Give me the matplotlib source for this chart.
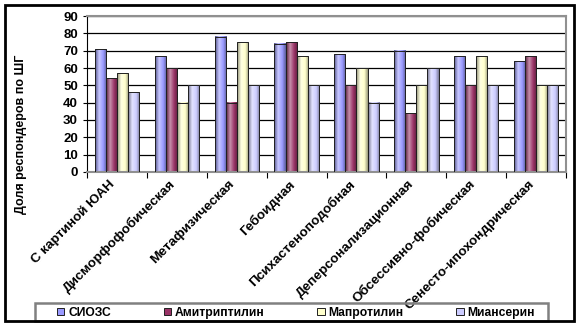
import numpy as np
import matplotlib
matplotlib.use("Agg")
import matplotlib.pyplot as plt
from matplotlib.colors import LinearSegmentedColormap, to_rgb
from matplotlib.patches import Rectangle
from matplotlib.transforms import ScaledTranslation

plt.rcParams['font.family'] = ['Liberation Sans', 'DejaVu Sans']

categories = ['С картиной ЮАН', 'Дисморфофобическая', 'Метафизическая', 'Гебоидная',
              'Психастеноподобная', 'Деперсонализационная', 'Обсессивно-фобическая',
              'Сенесто-ипохондрическая']
series_names = ['СИОЗС', 'Амитриптилин', 'Мапротилин', 'Миансерин']
siozs = [71, 67, 78, 74, 68, 70, 67, 64]
amitriptilin = [54, 60, 40, 75, 50, 34, 50, 67]
maprotilin = [57, 40, 75, 67, 60, 50, 67, 50]
mianserin = [46, 50, 50, 50, 40, 60, 50, 50]
colors = ['#9999ff', '#993366', '#ffffcc', '#ccccff']
yticks = list(range(0, 100, 10))

values = [siozs, amitriptilin, maprotilin, mianserin]


def shade(c):
    # Excel-style horizontal shading: dark edges, light stripe left of centre
    c = np.array(to_rgb(c))
    dark = c * 0.55
    light = c + (1 - c) * 0.45
    return LinearSegmentedColormap.from_list('g', [(0, dark), (0.35, light), (0.7, c), (1, c * 0.6)])


fig = plt.figure(figsize=(5.8, 3.28), dpi=100)
ax = fig.add_axes([0.150, 0.476, 0.826, 0.475])

x = np.arange(len(categories))
w = 0.185
grad = np.linspace(0, 1, 64).reshape(1, -1)
for i, (vals, col) in enumerate(zip(values, colors)):
    bars = ax.bar(x + (i - 1.5) * w, vals, w, facecolor='none', edgecolor='#202020',
                  linewidth=0.7, zorder=3)
    for b in bars:
        ax.imshow(grad, extent=[b.get_x(), b.get_x() + b.get_width(), 0, b.get_height()],
                  aspect='auto', cmap=shade(col), zorder=2.5)

ax.set_xlim(-0.5, len(categories) - 0.5)
ax.set_ylim(0, 90)
ax.set_yticks(yticks)
ax.yaxis.grid(True, color='black', linewidth=0.9, zorder=1)
ax.set_axisbelow(True)
for s in ['top', 'right', 'bottom']:
    ax.spines[s].set_color('#909090')
    ax.spines[s].set_linewidth(1.5)
ax.spines['left'].set_color('black')
ax.tick_params(axis='y', labelsize=9.5, length=3, width=0.8)
for t in ax.get_yticklabels():
    t.set_fontweight('bold')

ax.set_xticks(x)
ax.set_xticks(np.arange(len(categories) + 1) - 0.5, minor=True)
ax.tick_params(axis='x', which='major', length=0, pad=2)
ax.tick_params(axis='x', which='minor', length=4, width=0.8, color='black')
ax.set_xticklabels(categories, rotation=45, ha='right', va='top', fontsize=9.7,
                   fontweight='bold', rotation_mode='anchor')
shift = ScaledTranslation(-8 / 100, -3 / 100, fig.dpi_scale_trans)
for t in ax.get_xticklabels():
    t.set_transform(t.get_transform() + shift)

ax.set_ylabel('Доля респондеров по ШГ', fontsize=9, fontweight='bold')
ax.yaxis.set_label_coords(-0.125, 0.24)

handles = [Rectangle((0, 0), 1, 1, facecolor=c, edgecolor='#202020', linewidth=0.7) for c in colors]
leg = fig.legend(handles, series_names, loc='lower left', ncol=4, mode='expand',
                 bbox_to_anchor=(56 / 580, 1 - 320 / 328, 480 / 580, 16 / 328),
                 prop={'weight': 'bold', 'size': 8.7}, frameon=False,
                 borderpad=0.1, handlelength=0.6, handleheight=0.6, handletextpad=0.3,
                 borderaxespad=0)

# legend box and outer chart border
fig.patches.append(Rectangle((35 / 580, 1 - 321 / 328), 513 / 580, 18 / 328,
                             transform=fig.transFigure, fill=False, edgecolor='#808080',
                             linewidth=1.8))
fig.patches.append(Rectangle((5 / 580, 1 - 321 / 328), 569 / 580, 316 / 328,
                             transform=fig.transFigure, fill=False, edgecolor='black',
                             linewidth=2))

fig.savefig('out.png', dpi=100)
